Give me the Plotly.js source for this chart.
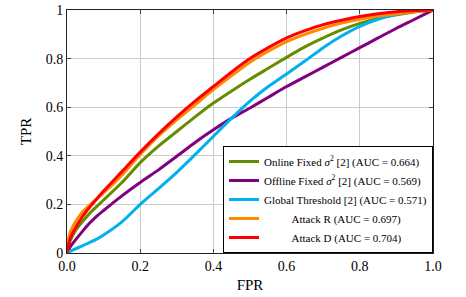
<!DOCTYPE html>
<html>
<head>
<meta charset="utf-8">
<script src="https://cdn.plot.ly/plotly-3.0.1.min.js"></script>
<style>html,body{margin:0;padding:0;background:#fff;}</style>
</head>
<body>
<div id="chart" style="width:466px;height:297px;"></div>
<script>
const fpr = [0, 0.005, 0.01, 0.02, 0.04, 0.06, 0.08, 0.1, 0.15, 0.2, 0.25, 0.3, 0.35, 0.4, 0.45, 0.5, 0.55, 0.6, 0.65, 0.7, 0.75, 0.8, 0.85, 0.9, 0.95, 1.0];
const tprOnline  = [0, 0.035, 0.055, 0.085, 0.125, 0.16, 0.19, 0.218, 0.29, 0.372, 0.44, 0.50, 0.56, 0.617, 0.667, 0.715, 0.76, 0.805, 0.848, 0.885, 0.918, 0.945, 0.965, 0.98, 0.992, 1];
const tprOffline = [0, 0.015, 0.028, 0.048, 0.085, 0.12, 0.15, 0.175, 0.235, 0.29, 0.342, 0.398, 0.455, 0.507, 0.555, 0.597, 0.641, 0.685, 0.725, 0.765, 0.805, 0.845, 0.885, 0.925, 0.962, 1];
const tprGlobal  = [0, 0.004, 0.008, 0.015, 0.028, 0.042, 0.056, 0.074, 0.128, 0.2, 0.265, 0.332, 0.405, 0.48, 0.555, 0.625, 0.685, 0.737, 0.79, 0.845, 0.893, 0.933, 0.962, 0.982, 0.994, 1];
const tprAttackR = [0, 0.065, 0.09, 0.12, 0.165, 0.195, 0.222, 0.247, 0.32, 0.405, 0.482, 0.548, 0.61, 0.672, 0.73, 0.785, 0.83, 0.87, 0.90, 0.925, 0.946, 0.962, 0.975, 0.985, 0.993, 1];
const tprAttackD = [0, 0.04, 0.065, 0.095, 0.145, 0.185, 0.22, 0.255, 0.335, 0.415, 0.49, 0.56, 0.625, 0.685, 0.745, 0.80, 0.845, 0.885, 0.915, 0.94, 0.958, 0.973, 0.985, 0.993, 0.998, 1];

const seriesNames = [
  'Online Fixed <i>σ</i><sup>2</sup> [2] (AUC = 0.664)',
  'Offline Fixed <i>σ</i><sup>2</sup> [2] (AUC = 0.569)',
  'Global Threshold [2] (AUC = 0.571)',
  '\u00a0\u00a0\u00a0\u00a0\u00a0\u00a0\u00a0\u00a0\u00a0\u00a0Attack R (AUC = 0.697)',
  '\u00a0\u00a0\u00a0\u00a0\u00a0\u00a0\u00a0\u00a0\u00a0\u00a0Attack D (AUC = 0.704)'
];
const seriesColors = ['#668c00', '#800080', '#00b0f0', '#ff8c00', '#ff0000'];
const seriesValues = [tprOnline, tprOffline, tprGlobal, tprAttackR, tprAttackD];

const xTickVals = [0, 0.2, 0.4, 0.6, 0.8, 1.0];
const xTickText = ['0.0', '0.2', '0.4', '0.6', '0.8', '1.0'];
const yTickVals = [0, 0.2, 0.4, 0.6, 0.8, 1.0];
const yTickText = ['0', '0.2', '0.4', '0.6', '0.8', '1'];

const traces = seriesValues.map((v, i) => ({
  x: fpr, y: v, type: 'scatter', mode: 'lines', name: seriesNames[i],
  line: {color: seriesColors[i], width: 3, shape: 'spline', smoothing: 0.6}
}));

const font = '"Liberation Serif", "Times New Roman", serif';
const layout = {
  width: 466, height: 297,
  margin: {l: 67, r: 33, t: 10, b: 44},
  paper_bgcolor: '#fff', plot_bgcolor: '#fff',
  font: {family: font, color: '#000', size: 14},
  showlegend: true,
  legend: {
    x: 1, y: 0, xanchor: 'right', yanchor: 'bottom',
    bordercolor: '#000', borderwidth: 1, bgcolor: '#fff',
    font: {family: font, size: 11, color: '#000'},
    tracegroupgap: 0
  },
  xaxis: {
    range: [0, 1], tickvals: xTickVals, ticktext: xTickText,
    showgrid: true, gridcolor: '#cccccc', gridwidth: 1,
    showline: true, linecolor: '#222', linewidth: 1, mirror: 'ticks',
    ticks: 'inside', ticklen: 4, tickcolor: '#444',
    zeroline: false, tickfont: {family: font, size: 14},
    title: {text: 'FPR', font: {family: font, size: 15}, standoff: 6}
  },
  yaxis: {
    range: [0, 1], tickvals: yTickVals, ticktext: yTickText,
    showgrid: true, gridcolor: '#cccccc', gridwidth: 1,
    showline: true, linecolor: '#222', linewidth: 1, mirror: 'ticks',
    ticks: 'inside', ticklen: 4, tickcolor: '#444',
    zeroline: false, tickfont: {family: font, size: 14},
    title: {text: 'TPR', font: {family: font, size: 15}, standoff: 10}
  }
};
Plotly.newPlot('chart', traces, layout, {displayModeBar: false, staticPlot: true});
</script>
</body>
</html>
